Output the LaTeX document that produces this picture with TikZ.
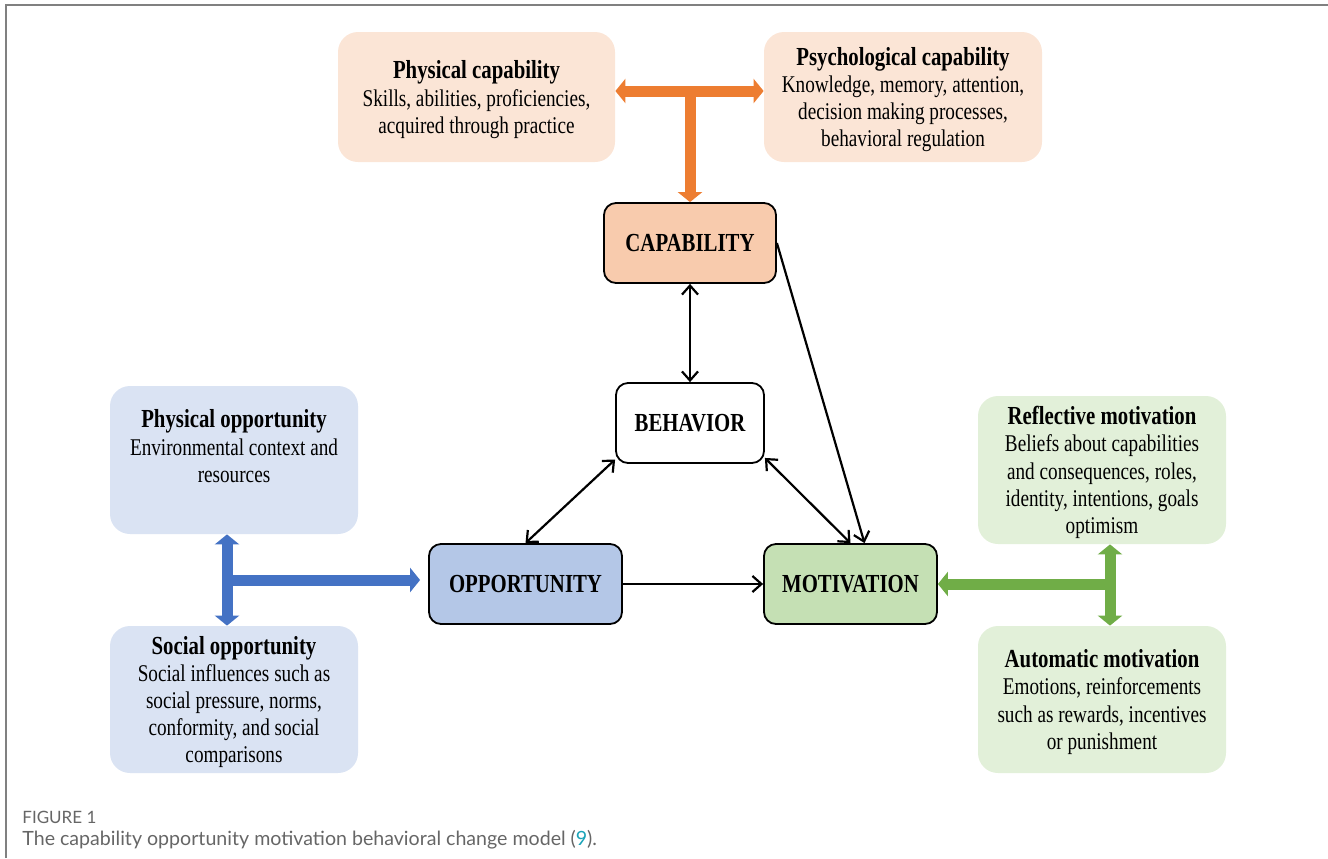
\documentclass[tikz,border=0pt]{standalone}
\usepackage{fontspec}
\setmainfont{Liberation Serif}[FakeStretch=0.8]
\newfontfamily\capfont{Lato}
\usepackage{xcolor}
\usetikzlibrary{arrows.meta,positioning,calc}
\definecolor{capfill}{HTML}{F8CBAD}
\definecolor{capside}{HTML}{FBE5D6}
\definecolor{oppfill}{HTML}{B4C7E7}
\definecolor{oppside}{HTML}{DAE3F3}
\definecolor{motfill}{HTML}{C5E0B4}
\definecolor{motside}{HTML}{E2F0D9}
\definecolor{caporange}{HTML}{ED7D31}
\definecolor{oppblue}{HTML}{4472C4}
\definecolor{motgreen}{HTML}{70AD47}
\definecolor{capgray}{HTML}{666666}
\definecolor{citeteal}{HTML}{1AA3B8}
\newcommand{\boxtitle}[1]{{\fontsize{13}{14}\selectfont\bfseries #1}}

\begin{document}
\begin{tikzpicture}
            [x=0.5pt,y=-0.5pt,
            main node/.style={draw=black,line width=0.9pt,rounded corners=6pt,minimum height=40pt,inner sep=0pt,font=\fontsize{13}{15}\selectfont\bfseries},
            side node/.style={rounded corners=10pt,minimum width=124pt,minimum height=74pt,inner sep=0pt,align=center,text depth=0pt,font=\fontsize{12}{13.6}\selectfont},
            link/.style={line width=1.1pt,{Straight Barb[length=4.5pt,width=8pt]}-{Straight Barb[length=4.5pt,width=8pt]}},
            one way/.style={line width=1.1pt,-{Straight Barb[length=4.5pt,width=8pt]}},
            fat/.style={line width=5.5pt,-{Triangle[width=12pt,length=5pt]}},
            fat both/.style={line width=5.5pt,{Triangle[width=12pt,length=5pt]}-{Triangle[width=12pt,length=5pt]}}]
            \useasboundingbox (0,0) rectangle (1328,858);
            \draw[gray,line width=0.8pt] (6,858) -- (6,5) -- (1328,5);

            \node[side node,fill=capside,minimum width=138.5pt,minimum height=65pt] (physcap) at (476.5,97) {\boxtitle{Physical capability}\\Skills, abilities, proficiencies,\\acquired through practice};
            \node[side node,fill=capside,minimum width=139pt,minimum height=65pt] (psycap) at (903,97) {\boxtitle{Psychological capability}\\Knowledge, memory, attention,\\decision making processes,\\behavioral regulation};
            \node[side node,fill=oppside,text depth=14pt] (physopp) at (234,460) {\boxtitle{Physical opportunity}\\Environmental context and\\resources};
            \node[side node,fill=oppside,minimum height=73.5pt] (socopp) at (234,699.5) {\boxtitle{Social opportunity}\\Social influences such as\\social pressure, norms,\\conformity, and social\\comparisons};
            \node[side node,fill=motside] (reflmot) at (1102,470) {\boxtitle{Reflective motivation}\\Beliefs about capabilities\\and consequences, roles,\\identity, intentions, goals\\optimism};
            \node[side node,fill=motside,minimum height=73.5pt] (automot) at (1102,699.5) {\boxtitle{Automatic motivation}\\Emotions, reinforcements\\such as rewards, incentives\\or punishment};

            \node[main node,fill=capfill,minimum width=86pt] (capability) at (690,243) {CAPABILITY};
            \node[main node,fill=white,minimum width=74pt] (behavior) at (690,423) {BEHAVIOR};
            \node[main node,fill=oppfill,minimum width=96.5pt] (opportunity) at (525.5,584) {OPPORTUNITY};
            \node[main node,fill=motfill,minimum width=86.5pt] (motivation) at (850.5,584) {MOTIVATION};

            \coordinate (capjoin) at (690,91);
            \coordinate (oppjoin) at (227,580);
            \coordinate (motjoin) at (1110,584);

            \draw[fat both,caporange] (physcap.east |- capjoin) -- (psycap.west |- capjoin);
            \draw[fat,caporange] (capjoin) -- (capability.north);
            \draw[fat both,oppblue] (physopp.south -| oppjoin) -- (socopp.north -| oppjoin);
            \draw[fat,oppblue,shorten >=4pt] (oppjoin) -- (opportunity.west |- oppjoin);
            \draw[fat both,motgreen] (reflmot.south -| motjoin) -- (automot.north -| motjoin);
            \draw[fat,motgreen] (motjoin) -- (motivation.east |- motjoin);

            \draw[link] (capability.south) -- (behavior.north);
            \draw[link] (behavior.206) -- (opportunity.north);
            \draw[link] (behavior.335) -- (motivation.north);
            \draw[one way] (capability.east) -- ($(motivation.north)+(14,0)$);
            \draw[one way] (opportunity.east) -- (motivation.west);

            \node[anchor=west,font=\capfont\fontsize{8.5}{9}\selectfont,text=capgray,inner sep=0pt] (fignum) at (22,817) {FIGURE 1};
            \node[anchor=west,font=\capfont\fontsize{9.8}{11}\selectfont,text=capgray,inner sep=0pt] (figcap) at (22,840) {The capability opportunity motivation behavioral change model (\textcolor{citeteal}{9}).};
        \end{tikzpicture}
\end{document}
